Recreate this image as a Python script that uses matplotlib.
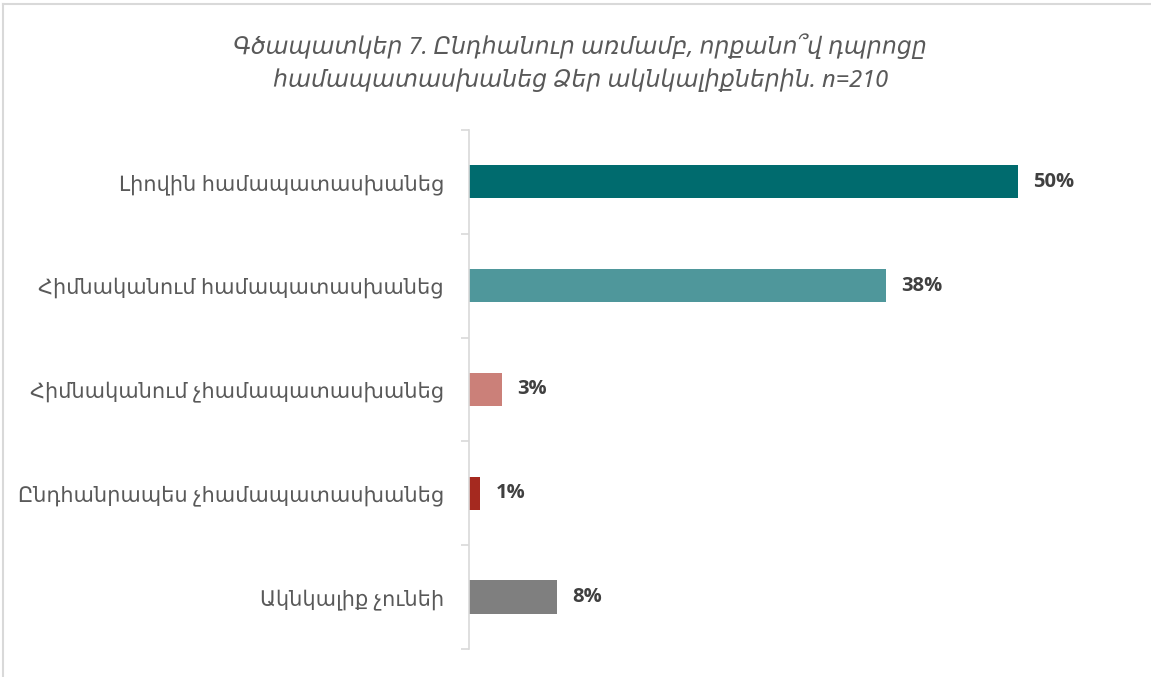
import numpy as np
import matplotlib.pyplot as plt
from matplotlib.lines import Line2D

# ---------------------------------------------------------------------------
# Data
# ---------------------------------------------------------------------------
categories = [
    "Լիովին համապատասխանեց",
    "Հիմնականում համապատասխանեց",
    "Հիմնականում չհամապատասխանեց",
    "Ընդհանրապես չհամապատասխանեց",
    "Ակնկալիք չունեի",
]
values = [50, 38, 3, 1, 8]
colors = ["#006B6E", "#4F979B", "#CB8079", "#A5291F", "#7F7F7F"]
title = ("Գծապատկեր 7. Ընդհանուր առմամբ, որքանո՞վ դպրոցը\n"
         "համապատասխանեց Ձեր ակնկալիքներին. n=210")

plt.rcParams["font.family"] = ["Noto Sans", "DejaVu Sans"]

fig = plt.figure(figsize=(11.51, 6.77), dpi=100)
ax = fig.add_axes([0.4075, 0.0414, 0.572, 0.7666])

y = np.arange(len(categories))
ax.barh(y, values, height=0.32, color=colors)
ax.set_ylim(len(categories) - 0.5, -0.5)
ax.set_xlim(0, 60)

for yi, v in zip(y, values):
    ax.annotate(f"{v}%", xy=(v, yi), xytext=(11, 0), textcoords="offset points",
                ha="left", va="center", fontsize=14.5, fontweight="bold",
                color="#404040", family=["Open Sans", "DejaVu Sans"])

ax.set_yticks(y)
ax.set_yticklabels(categories, fontsize=15, color="#595959")
ax.set_yticks(np.arange(-0.5, len(categories)), minor=True)
ax.tick_params(axis="y", which="major", length=0, pad=18)
ax.tick_params(axis="y", which="minor", length=6, color="#D9D9D9", width=1.2)
ax.set_xticks([])

for s in ["top", "right", "bottom"]:
    ax.spines[s].set_visible(False)
ax.spines["left"].set_color("#D9D9D9")
ax.spines["left"].set_linewidth(1.2)

fig.text(0.504, 0.906, title, ha="center", va="center", fontsize=17,
         style="italic", color="#595959", linespacing=1.45)

# light frame around the chart area
fig.add_artist(Line2D([3 / 1151, 3 / 1151], [0, 1 - 4 / 677],
                      transform=fig.transFigure, color="#D9D9D9", lw=1.5))
fig.add_artist(Line2D([3 / 1151, 1], [1 - 4 / 677, 1 - 4 / 677],
                      transform=fig.transFigure, color="#D9D9D9", lw=1.5))

fig.savefig("out.png", dpi=100)
